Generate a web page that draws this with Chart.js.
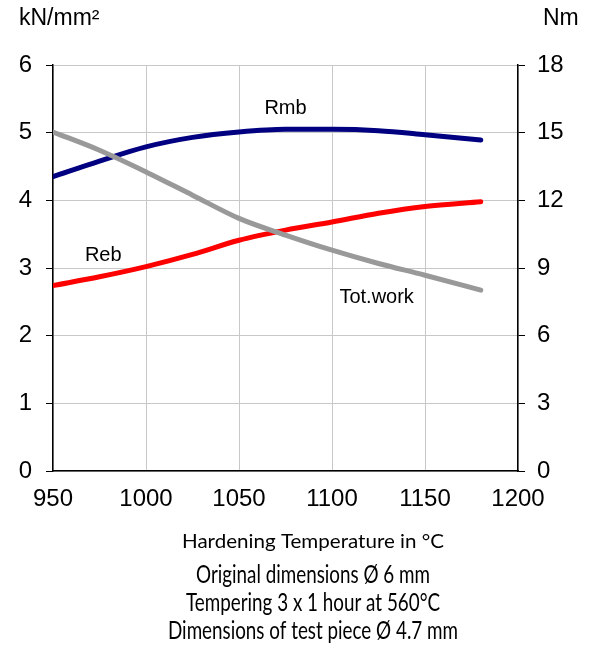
<!DOCTYPE html>
<html>
<head>
<meta charset="utf-8">
<script src="https://cdn.jsdelivr.net/npm/chart.js@4/dist/chart.umd.min.js"></script>
<style>
  html, body { margin: 0; padding: 0; background: #fff; }
  #wrap { position: relative; width: 595px; height: 648px; }
</style>
</head>
<body>
<div id="wrap"><canvas id="chart" width="595" height="648"></canvas></div>
<script>
// data
const temps = [950, 975, 1000, 1025, 1050, 1075, 1100, 1125, 1150, 1180];
const rmb = [4.35, 4.58, 4.79, 4.93, 5.01, 5.05, 5.05, 5.03, 4.97, 4.89];
const reb = [2.74, 2.87, 3.02, 3.20, 3.41, 3.56, 3.68, 3.81, 3.91, 3.98];
const totWork = [15.03, 14.22, 13.26, 12.23, 11.20, 10.46, 9.79, 9.20, 8.68, 8.02];
const xTicks = [950, 1000, 1050, 1100, 1150, 1200];
const leftTicks = [0, 1, 2, 3, 4, 5, 6];
const rightTicks = [0, 3, 6, 9, 12, 15, 18];
const footLines = ['Original dimensions Ø 6 mm', 'Tempering 3 x 1 hour at 560°C', 'Dimensions of test piece Ø 4.7 mm'];

const pts = (vals) => temps.map((t, i) => ({ x: t, y: vals[i] }));

const sans = "'Liberation Sans', Arial, sans-serif";

// draw text squeezed/stretched horizontally by a factor
const fillScaled = (ctx, s, cx, cy, k) => {
    ctx.save();
    ctx.translate(cx, cy);
    ctx.scale(k, 1);
    ctx.fillText(s, 0, 0);
    ctx.restore();
};

const labelsPlugin = {
    id: 'labels',
    afterDraw(chart) {
        const ctx = chart.ctx;
        const x = chart.scales.x, yl = chart.scales.y;
        ctx.save();
        ctx.fillStyle = '#000';
        ctx.textBaseline = 'middle';
        // unit labels
        ctx.font = '23px ' + sans;
        ctx.textAlign = 'left';
        ctx.fillText('kN/mm²', 19, 19);
        ctx.fillText('Nm', 543, 19);
        // series labels
        ctx.font = '20px ' + sans;
        ctx.textAlign = 'center';
        ctx.fillText('Rmb', x.getPixelForValue(1075), yl.getPixelForValue(5.36));
        ctx.fillText('Reb', x.getPixelForValue(977), yl.getPixelForValue(3.19));
        ctx.fillText('Tot.work', x.getPixelForValue(1124), yl.getPixelForValue(2.56));
        // footer
        ctx.font = '20px Lato, sans-serif';
        let k = 262 / ctx.measureText('Hardening Temperature in °C').width;
        fillScaled(ctx, 'Hardening Temperature in °C', 313, 542, k);
        ctx.font = '25px Lato, sans-serif';
        k = 290 / ctx.measureText(footLines[2]).width;
        footLines.forEach((s, i) => fillScaled(ctx, s, 313, 575 + i * 28, k));
        ctx.restore();
    }
};

const ctx = document.getElementById('chart').getContext('2d');
new Chart(ctx, {
    type: 'line',
    data: {
        datasets: [
            { label: 'Tot.work', data: pts(totWork), yAxisID: 'y2', borderColor: '#999999', order: 0 },
            { label: 'Rmb', data: pts(rmb), yAxisID: 'y', borderColor: '#000080', order: 1 },
            { label: 'Reb', data: pts(reb), yAxisID: 'y', borderColor: '#ff0000', order: 2 }
        ]
    },
    options: {
        responsive: false,
        animation: false,
        layout: { padding: { top: 65, left: 0, right: 0, bottom: 0 } },
        elements: {
            line: { borderWidth: 5, tension: 0.4, cubicInterpolationMode: 'monotone', borderCapStyle: 'round', fill: false },
            point: { radius: 0, hoverRadius: 0 }
        },
        plugins: { legend: { display: false }, tooltip: { enabled: false } },
        scales: {
            x: {
                type: 'linear', min: 950, max: 1200,
                afterBuildTicks: (s) => { s.ticks = xTicks.map(v => ({ value: v })); },
                afterFit: (s) => { s.height = 177; },
                border: { color: '#000', width: 1.5 },
                grid: { color: '#c8c8c8', drawTicks: false },
                ticks: { color: '#000', font: { family: sans, size: 24 }, padding: 14, maxRotation: 0,
                         callback: (v) => String(v) }
            },
            y: {
                position: 'left', min: 0, max: 6,
                afterBuildTicks: (s) => { s.ticks = leftTicks.map(v => ({ value: v })); },
                afterFit: (s) => { s.width = 53; },
                border: { color: '#000', width: 1.5 },
                grid: { color: '#c8c8c8', tickColor: '#000', tickLength: 7 },
                ticks: { color: '#000', font: { family: sans, size: 24 }, padding: 14 }
            },
            y2: {
                position: 'right', min: 0, max: 18,
                afterBuildTicks: (s) => { s.ticks = rightTicks.map(v => ({ value: v })); },
                afterFit: (s) => { s.width = 77; },
                border: { color: '#000', width: 1.5 },
                grid: { drawOnChartArea: false, tickColor: '#000', tickLength: 7 },
                ticks: { color: '#000', font: { family: sans, size: 24 }, padding: 12 }
            }
        }
    },
    plugins: [labelsPlugin]
});
</script>
</body>
</html>
